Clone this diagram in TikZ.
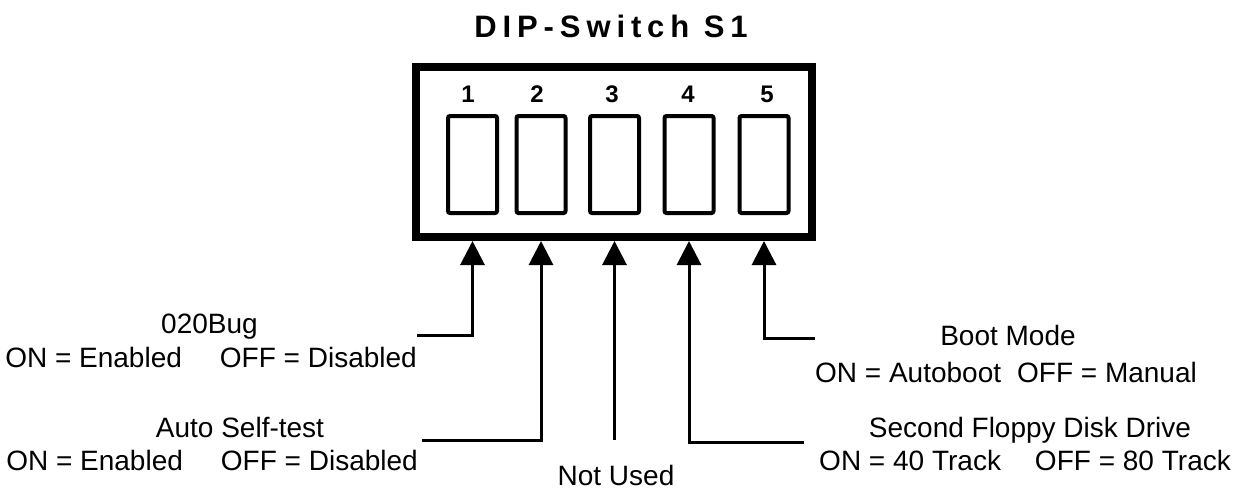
\documentclass[tikz,border=0pt]{standalone}
\usepackage{fontspec}
\setmainfont{Liberation Sans}
\newfontfamily\titlefont[LetterSpace=19]{Liberation Sans}
\usetikzlibrary{arrows.meta}
\begin{document}
\begin{tikzpicture}[x=1pt,y=-1pt,
  lbl/.style={font=\fontsize{28}{30}\selectfont, inner sep=0pt, anchor=base},
  num/.style={font=\bfseries\fontsize{24}{26}\selectfont, inner sep=0pt, anchor=base},
  swbox/.style={draw, line width=4pt, minimum width=49pt, minimum height=97pt, rounded corners=2pt, inner sep=0pt},
  frame/.style={draw, line width=8pt, minimum width=396pt, minimum height=170pt, inner sep=0pt},
  conn/.style={line width=3pt, -{Triangle[width=24pt,length=24pt]}}]
\useasboundingbox (0,0) rectangle (1254,490);
\node[font=\titlefont\bfseries\fontsize{31}{33}\selectfont, inner sep=0pt, anchor=base] (title) at (611,37) {DIP-Switch S1};
\node[frame] (dip) at (614,152) {};
\node[swbox] (s1) at (472.5,164.5) {};
\node[swbox] (s2) at (541,164.5) {};
\node[swbox] (s3) at (614.5,164.5) {};
\node[swbox] (s4) at (689,164.5) {};
\node[swbox] (s5) at (764,164.5) {};
\node[num] (n1) at (468,102) {1};
\node[num] (n2) at (537,102) {2};
\node[num] (n3) at (612,102) {3};
\node[num] (n4) at (688,102) {4};
\node[num] (n5) at (767,102) {5};
% left labels
\node[lbl] (l1a) at (209.5,333) {020Bug};
\node[lbl, anchor=base east] (l1b) at (417,367) {ON = Enabled\hspace{38pt}OFF = Disabled};
\node[lbl] (l2a) at (240,437) {Auto Self-test};
\node[lbl, anchor=base east] (l2b) at (418,470) {ON = Enabled\hspace{38pt}OFF = Disabled};
\node[lbl] (l3) at (616,485) {Not Used};
\node[lbl] (l5a) at (1008,345) {Boot Mode};
\node[lbl] (l5b) at (1006,382) {ON = Autoboot\hspace{16pt}OFF = Manual};
\node[lbl] (l4a) at (1030,437) {Second Floppy Disk Drive};
\node[lbl] (l4b) at (1025,470) {ON = 40 Track\hspace{34pt}OFF = 80 Track};
% connector ends
\coordinate (c1) at (417,335);
\coordinate (c2) at (422,440);
\coordinate (c3) at (614.5,440);
\coordinate (c4) at (804,442);
\coordinate (c5) at (815,338);
\draw[conn] (c1) -| (s1 |- dip.south);
\draw[conn] (c2) -| (s2 |- dip.south);
\draw[conn] (c3) -- (s3 |- dip.south);
\draw[conn] (c4) -| (s4 |- dip.south);
\draw[conn] (c5) -| (s5 |- dip.south);
\end{tikzpicture}
\end{document}
